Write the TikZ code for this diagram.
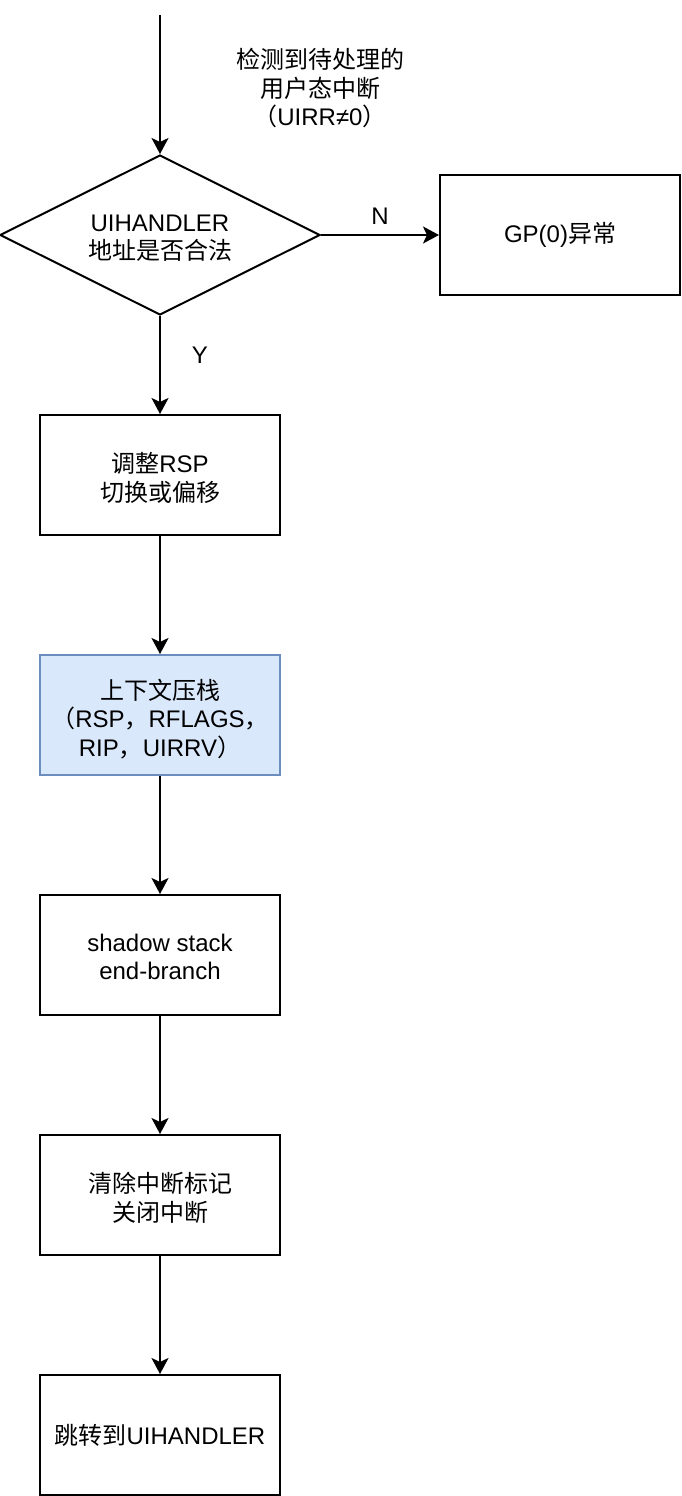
\documentclass[tikz,border=0pt]{standalone}
\usepackage{fontspec}
\setmainfont{Liberation Sans}
\newfontfamily\cjkf{Noto Sans CJK SC}
\newcommand\zh[1]{{\cjkf #1}}
\usetikzlibrary{arrows.meta,shapes.geometric}
\tikzset{
  base/.style={font=\fontsize{24}{28.5}\selectfont, align=center, text=black},
  procbox/.style={base, draw=black, line width=2pt, minimum width=240pt, minimum height=120pt, inner sep=0pt},
  decision/.style={base, diamond, draw=black, line width=2pt, minimum width=320pt, minimum height=160pt, aspect=2, inner sep=0pt},
  flow/.style={draw=black, line width=2pt, -{Stealth[length=16pt,width=17pt,inset=4pt]}},
  lbl/.style={base}
}
\definecolor{blueedge}{RGB}{108,142,191}
\definecolor{bluefill}{RGB}{218,232,252}
\begin{document}
\begin{tikzpicture}[x=1pt,y=-1pt]
\useasboundingbox (0,0) rectangle (682,1496);
\coordinate (start) at (160,15);
\node[lbl] (note) at (320,88) {\zh{检测到待处理的}\\\zh{用户态中断}\\\zh{（}UIRR≠0\zh{）}};
\node[decision] (dec) at (160,235) {};
\node[lbl] (dectext) at (160,238) {UIHANDLER\\\zh{地址是否合法}};
\node[procbox] (gp) at (560,235) {GP(0)\zh{异常}};
\node[procbox] (b1) at (160,475) {};
\node[lbl] (t1) at (160,478) {\zh{调整}RSP\\\zh{切换或偏移}};
\node[procbox, draw=blueedge, fill=bluefill] (b2) at (160,715) {};
\node[lbl] (t2) at (160,719) {\zh{上下文压栈}\\\zh{（}RSP\zh{，}RFLAGS\zh{，}\\RIP\zh{，}UIRRV\zh{）}};
\node[procbox] (b3) at (160,955) {};
\node[lbl] (t3) at (160,957) {shadow stack\\end-branch};
\node[procbox] (b4) at (160,1195) {};
\node[lbl] (t4) at (160,1198) {\zh{清除中断标记}\\\zh{关闭中断}};
\node[procbox] (b5) at (160,1435) {\zh{跳转到}UIHANDLER};
\draw[flow] (start) -- (dec.north);
\draw[flow] (dec.east) -- (gp.west);
\draw[flow] (dec.south) -- (b1.north);
\draw[flow] (b1) -- (b2);
\draw[flow] (b2) -- (b3);
\draw[flow] (b3) -- (b4);
\draw[flow] (b4) -- (b5);
\node[lbl] (nlab) at (380,216) {N};
\node[lbl] (ylab) at (200,355) {Y};
\end{tikzpicture}
\end{document}
